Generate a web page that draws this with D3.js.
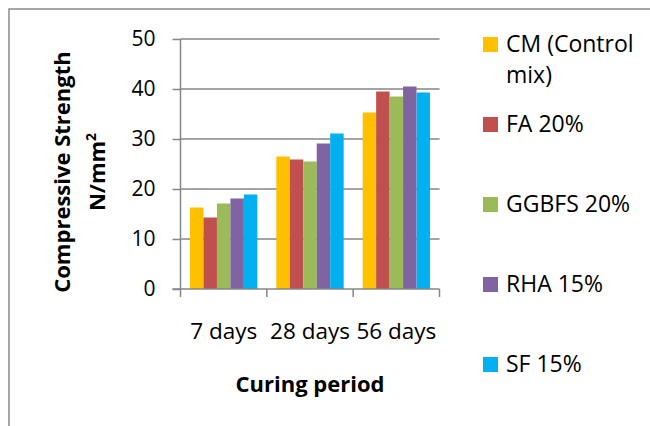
<!DOCTYPE html>
<html>
<head>
<meta charset="utf-8">
<script src="https://cdn.jsdelivr.net/npm/d3@7"></script>
<style>
  html, body { margin: 0; padding: 0; background: #fff; }
  svg { display: block; }
  text { font-family: "Open Sans", "Liberation Sans", sans-serif; fill: #000; }
</style>
</head>
<body>
<svg id="chart" width="650" height="426"></svg>
<script>
// Compressive strength (N/mm²) by curing period for each mix
const periods = ["7 days", "28 days", "56 days"];
const mixes = ["CM (Control mix)", "FA 20%", "GGBFS 20%", "RHA 15%", "SF 15%"];
const legendLines = [["CM (Control", "mix)"], ["FA 20%"], ["GGBFS 20%"], ["RHA 15%"], ["SF 15%"]];
const cmValues    = [16.3, 26.5, 35.3];
const faValues    = [14.3, 25.9, 39.5];
const ggbfsValues = [17.1, 25.5, 38.5];
const rhaValues   = [18.1, 29.1, 40.5];
const sfValues    = [18.9, 31.1, 39.3];
const yTicks = [0, 10, 20, 30, 40, 50];
const colors = ["#FFC000", "#C0504D", "#9BBB59", "#8064A2", "#00B0F0"];

const seriesValues = [cmValues, faValues, ggbfsValues, rhaValues, sfValues];

const svg = d3.select("#chart");
const plot = { left: 180.5, right: 439.5, top: 39, bottom: 289 };
const axisColor = "#868686";

// outer chart frame
svg.append("rect")
  .attr("x", 9).attr("y", 9)
  .attr("width", 700).attr("height", 500)
  .attr("fill", "none").attr("stroke", "#8a8a8a").attr("stroke-width", 1.5);

const x0 = d3.scaleBand().domain(periods).range([plot.left, plot.right]).paddingInner(0.22).paddingOuter(0.11);
const x1 = d3.scaleBand().domain(d3.range(mixes.length)).range([0, x0.bandwidth()]);
const y = d3.scaleLinear().domain([0, 50]).range([plot.bottom, plot.top]);

// horizontal gridlines
svg.append("g").selectAll("line").data(yTicks.slice(1)).join("line")
  .attr("x1", plot.left).attr("x2", plot.right)
  .attr("y1", d => y(d)).attr("y2", d => y(d))
  .attr("stroke", axisColor).attr("stroke-width", 1.5);

// bars
const groups = svg.append("g").selectAll("g").data(periods).join("g")
  .attr("transform", d => `translate(${x0(d)},0)`);
groups.selectAll("rect")
  .data((p, pi) => seriesValues.map((vals, si) => ({ si, v: vals[pi] })))
  .join("rect")
  .attr("x", d => x1(d.si))
  .attr("width", x1.bandwidth())
  .attr("y", d => y(d.v))
  .attr("height", d => y(0) - y(d.v))
  .attr("fill", d => colors[d.si]);

// y axis
const yAxis = svg.append("g").attr("transform", `translate(${plot.left},0)`)
  .call(d3.axisLeft(y).tickValues(yTicks).tickSize(8).tickPadding(17).tickFormat(d3.format("d")));
yAxis.select(".domain").attr("stroke", axisColor).attr("stroke-width", 1.5).attr("d", `M0,${plot.bottom}V${plot.top}`);
yAxis.selectAll(".tick line").attr("stroke", axisColor).attr("stroke-width", 1.5);
yAxis.selectAll(".tick text").attr("font-size", 21).attr("fill", "#000")
  .style("font-family", "'Open Sans', sans-serif");

// x axis: category separators as ticks
const xAxisG = svg.append("g").attr("transform", `translate(0,${plot.bottom})`);
xAxisG.append("line").attr("x1", plot.left - 8).attr("x2", plot.right)
  .attr("stroke", axisColor).attr("stroke-width", 1.5);
const step = (plot.right - plot.left) / periods.length;
xAxisG.selectAll("line.sep").data(d3.range(periods.length + 1)).join("line")
  .attr("class", "sep")
  .attr("x1", i => plot.left + i * step).attr("x2", i => plot.left + i * step)
  .attr("y1", 0).attr("y2", 8)
  .attr("stroke", axisColor).attr("stroke-width", 1.5);
xAxisG.selectAll("text").data(periods).join("text")
  .attr("x", d => x0(d) + x0.bandwidth() / 2)
  .attr("y", 50)
  .attr("text-anchor", "middle")
  .attr("font-size", 22.5)
  .text(d => d);

// axis titles
svg.append("text")
  .attr("x", (plot.left + plot.right) / 2).attr("y", 392)
  .attr("text-anchor", "middle").attr("font-size", 22).attr("font-weight", "bold")
  .text("Curing period");

const yTitle = svg.append("text")
  .attr("transform", "translate(0,172) rotate(-90)")
  .attr("text-anchor", "middle").attr("font-size", 22).attr("font-weight", "bold");
yTitle.append("tspan").attr("x", 0).attr("y", 70).text("Compressive Strength");
yTitle.append("tspan").attr("x", 0).attr("y", 105).text("N/mm");
yTitle.append("tspan").attr("dy", -9).attr("font-size", 14).text("2");

// legend
const legend = svg.append("g").attr("transform", "translate(483,0)");
const entries = legend.selectAll("g").data(mixes).join("g")
  .attr("transform", (d, i) => `translate(0,${37 + i * 80})`);
entries.append("rect").attr("width", 15).attr("height", 15)
  .attr("fill", (d, i) => colors[i]);
entries.append("text")
  .attr("x", 23).attr("font-size", 23)
  .selectAll("tspan").data((d, i) => legendLines[i]).join("tspan")
  .attr("x", 23).attr("y", (d, j) => 15 + j * 31)
  .text(d => d);
</script>
</body>
</html>
